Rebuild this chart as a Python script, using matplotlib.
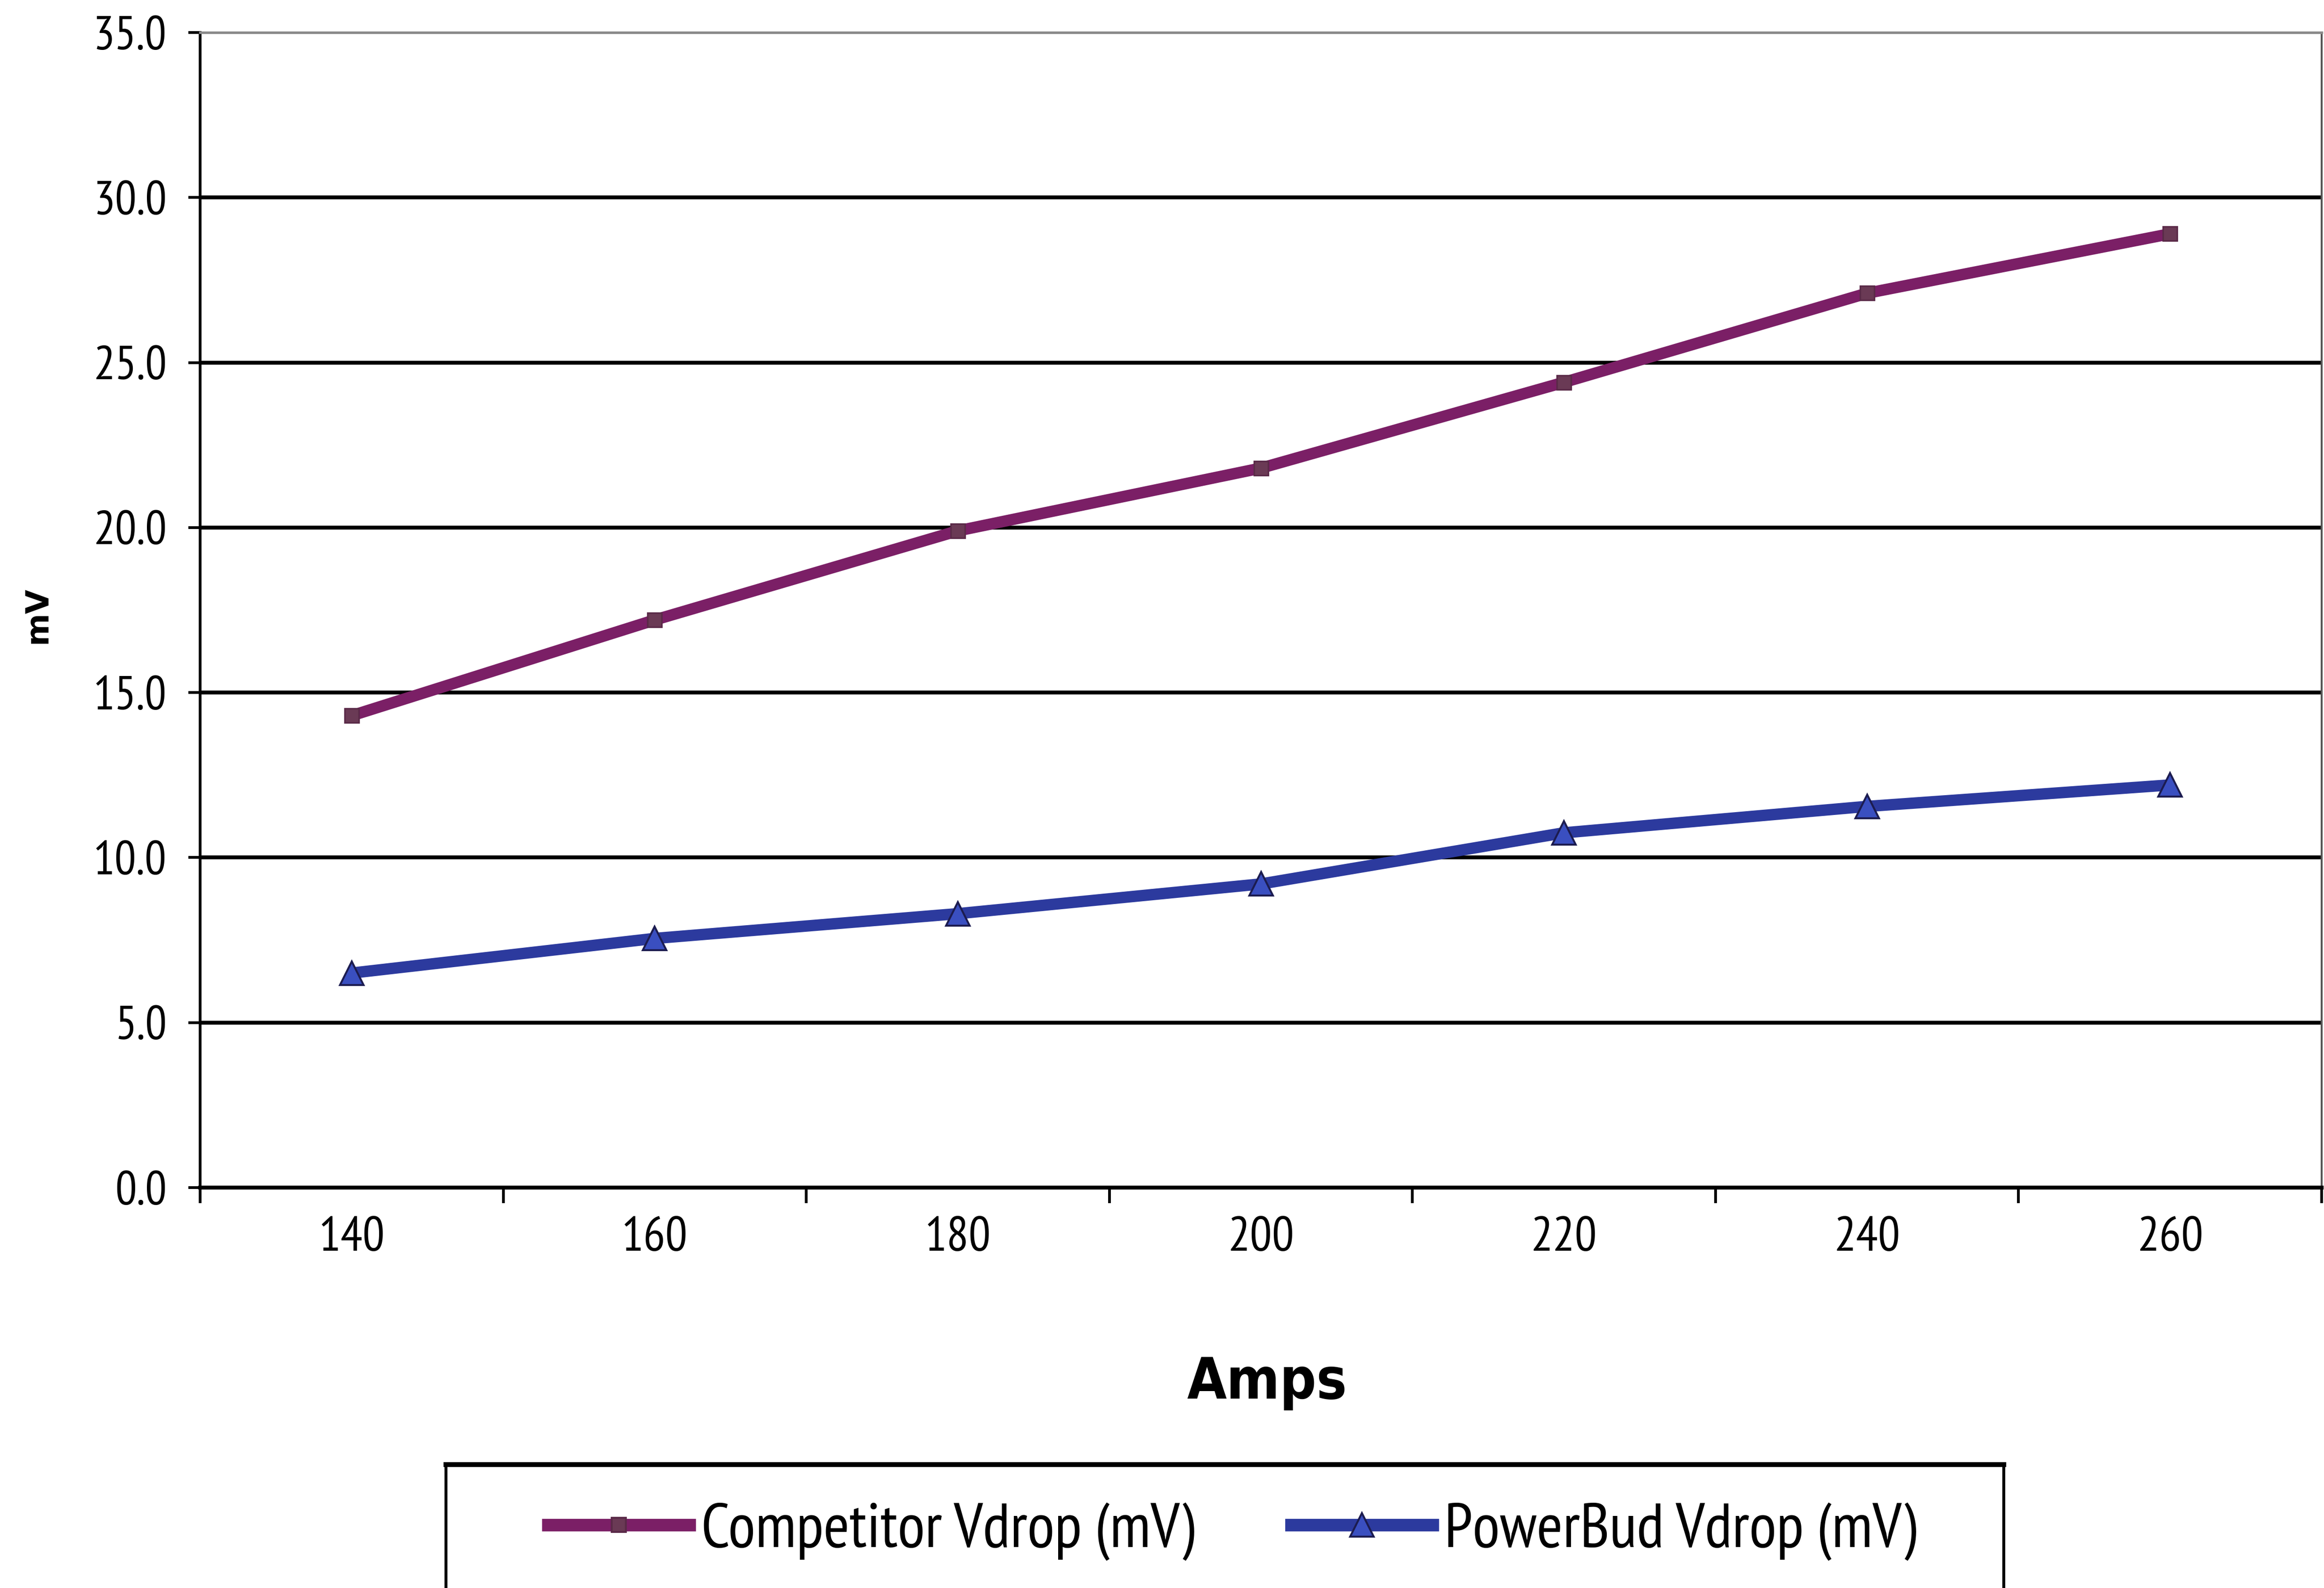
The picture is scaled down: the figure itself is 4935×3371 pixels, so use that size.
import matplotlib
matplotlib.use("Agg")
import matplotlib.pyplot as plt
from matplotlib.patches import Rectangle
from matplotlib.lines import Line2D

# ---- data ----
amps = ["140", "160", "180", "200", "220", "240", "260"]
competitor = [14.3, 17.2, 19.9, 21.8, 24.4, 27.1, 28.9]
powerbud = [6.5, 7.55, 8.3, 9.2, 10.75, 11.55, 12.2]
y_ticks = [0, 5, 10, 15, 20, 25, 30, 35]
series_names = ["Competitor Vdrop (mV)", "PowerBud Vdrop (mV)"]

FONT = ["PT Sans Narrow", "DejaVu Sans"]
plt.rcParams['font.family'] = FONT

W, H, DPI = 4935, 3371, 300
fig = plt.figure(figsize=(W / DPI, H / DPI), dpi=DPI)
fig.patch.set_facecolor("white")

ax = fig.add_axes([425 / W, 1 - 2521 / H, (4930 - 425) / W, (2521 - 69) / H])

xs = list(range(len(amps)))
c_comp = "#7b1f66"
c_pb = "#2c3a9e"
LW = 5.8
ax.plot(xs, competitor, color=c_comp, lw=LW, marker="s", ms=7,
        mfc="#6a3a55", mec="#5a2a48", mew=0.8, zorder=4, solid_capstyle="butt")
ax.plot(xs, powerbud, color=c_pb, lw=LW, marker="^", ms=12,
        mfc="#3a4fc0", mec="#1c1c50", mew=1.0, zorder=4, solid_capstyle="butt")

ax.set_ylim(0, 35)
ax.set_xlim(-0.5, len(amps) - 0.5)

# y axis
ax.set_yticks(y_ticks)
ax.set_yticklabels([f"{v:.1f}" for v in y_ticks])
for v in y_ticks[1:-1]:
    ax.axhline(v, color="black", lw=2.0, zorder=1)

# x axis: tick marks at category boundaries, labels at centres
ax.set_xticks([i - 0.5 for i in range(len(amps) + 1)])
ax.set_xticklabels([])
ax.set_xticks(xs, minor=True)
ax.set_xticklabels(amps, minor=True)

ax.tick_params(axis="y", direction="out", length=6, width=1.4, pad=11,
               labelsize=24.5, colors="black")
ax.tick_params(axis="x", which="major", direction="out", length=8, width=1.4)
ax.tick_params(axis="x", which="minor", length=0, pad=15, labelsize=25)

ax.spines["left"].set_linewidth(1.4)
ax.spines["left"].set_color("black")
ax.spines["bottom"].set_linewidth(2.0)
ax.spines["bottom"].set_color("black")
ax.spines["top"].set_linewidth(1.3)
ax.spines["top"].set_color("#8a8a8a")
ax.spines["right"].set_linewidth(1.0)
ax.spines["right"].set_color("#555555")

# axis titles
fig.text(79 / W, 1 - 1306 / H, "mV", rotation=90, fontsize=16,
         fontweight="bold", ha="center", va="center",
         family=["DejaVu Sans"])
fig.text(2690 / W, 1 - 2936 / H, "Amps", fontsize=29, fontweight="bold",
         ha="center", va="center", family=["DejaVu Sans"],
         fontstretch="condensed")

# legend
handles = [
    Line2D([], [], color=c_comp, lw=LW + 0.6, marker="s", ms=7,
           mfc="#6a3a55", mec="#5a2a48"),
    Line2D([], [], color=c_pb, lw=LW + 0.6, marker="^", ms=12,
           mfc="#3a4fc0", mec="#1c1c50"),
]
leg = fig.legend(handles, series_names, loc="center left",
                 bbox_to_anchor=(1164 / W, 1 - 3251 / H), ncol=2,
                 frameon=False, fontsize=32, handlelength=2.25,
                 handletextpad=0.19, columnspacing=1.54,
                 borderpad=0, borderaxespad=0)

frame = Rectangle((947 / W, -0.05), (4255 - 947) / W, 0.05 + (1 - 3109 / H),
                  transform=fig.transFigure, fill=False, edgecolor="black",
                  lw=1.5, zorder=0)
fig.patches.append(frame)
fig.add_artist(Line2D([947 / W, 4255 / W], [1 - 3109 / H, 1 - 3109 / H],
                      transform=fig.transFigure, color="black", lw=2.5))

fig.savefig("out.png", dpi=DPI, facecolor="white")
